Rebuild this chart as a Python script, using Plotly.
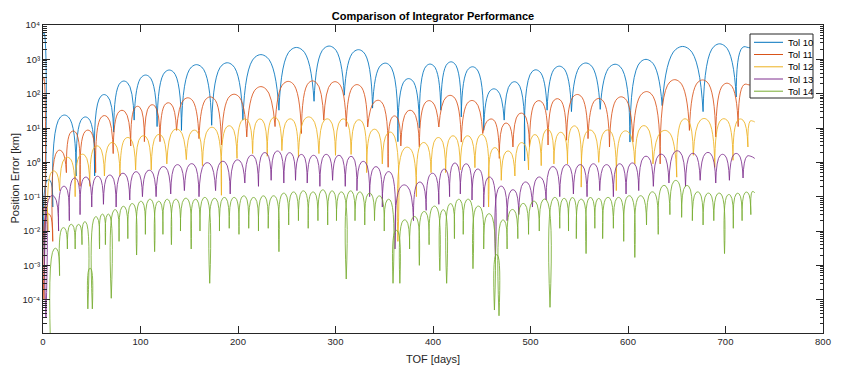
import plotly.graph_objects as go

# ---------------- data ----------------
# each series: days of the cusps (first = start, last = end of data),
# value at each cusp, and the peak value of each arch between two cusps

tol10_cusp_days = [0, 1.5, 10, 34, 53, 72.5, 93.5, 117, 142, 173, 205, 242, 278, 309, 338,
                   364, 386, 408, 429, 452, 473, 494, 517, 542, 571.5, 602, 635, 677, 711, 730]
tol10_cusp_vals = [1e-6, 1e-3, 0.05, 0.4, 0.4, 7.6, 17, 11, 8.5, 12, 17, 33, 60, 90, 38,
                   4, 10, 33, 21, 8.6, 17, 1.1, 33, 30, 35, 3.9, 45, 30, 80, 2000]
tol10_peak_vals = [6000, 0.3, 21, 19, 85, 210, 310, 430, 600, 680, 1150, 1870, 2100, 1660,
                   680, 245, 650, 760, 540, 125, 200, 440, 560, 680, 620, 850, 1950, 2400, 2200]

tol11_cusp_days = [0, 1, 10, 24, 38, 54, 72, 90, 104, 120, 137, 160, 183, 209, 238, 265, 288,
                   311, 333, 354, 367, 386, 406, 429, 451, 468, 482, 499, 518, 537, 559, 581,
                   605, 633, 663, 690, 713, 730]
tol11_cusp_vals = [1e-6, 1e-4, 0.005, 0.5, 0.2, 0.5, 1.8, 3, 4, 4, 8.5, 4.9, 3.2, 5.5, 11,
                   6.9, 17, 11, 10.7, 0.72, 3, 2.8, 10.7, 3.9, 6.9, 1.3, 2.8, 2.8, 3.2, 4.4,
                   4.9, 2.8, 3.9, 0.9, 8.5, 5.5, 11, 170]
tol11_peak_vals = [300, 0.03, 2.1, 7.6, 8, 21, 30, 40, 44, 50, 68, 72, 85, 140, 200, 210, 200,
                   165, 58, 21, 30, 57, 80, 57, 17, 13, 25, 57, 65, 85, 65, 72, 100, 220, 220,
                   180, 180]

tol12_cusp_days = [0, 5, 17, 33, 48, 63, 79, 95, 111, 127, 147, 163.5, 183, 199, 215, 230,
                   245, 262, 283, 300, 316, 332, 348, 364, 383, 398, 413, 428, 443, 457, 470,
                   484, 498, 511, 524, 538, 552, 570, 588, 607, 625.6, 650, 667, 689, 707.7,
                   723, 730]
tol12_cusp_vals = [1e-6, 0.01, 0.15, 0.1, 0.2, 0.4, 0.4, 0.6, 0.6, 0.9, 1.2, 0.8, 0.11, 1.3,
                   1.8, 1.5, 2.2, 1.4, 1.8, 1.6, 1.7, 0.5, 0.9, 0.005, 0.1, 0.5, 0.5, 0.6, 0.7,
                   0.05, 0.3, 0.4, 0.6, 0.8, 0.9, 0.9, 0.19, 1.0, 0.15, 0.9, 0.9, 0.37, 1.6,
                   0.72, 1.15, 2.8, 15]
tol12_peak_vals = [0.05, 0.53, 1.3, 1.6, 2.8, 3.5, 4.9, 5.5, 6, 8.5, 8, 9.5, 10.7, 17, 17, 19,
                   17, 19, 17, 17, 16, 8.5, 7, 2.5, 3.5, 4.9, 5.5, 5.5, 6, 2.5, 2, 3.5, 6, 8.5,
                   7, 10.7, 8, 8, 7.5, 10.7, 7.6, 17, 17, 17, 17, 16]

tol13_cusp_days = [0, 3, 16, 27, 38, 50, 62, 75, 89, 102, 116, 131, 145, 160, 177, 192, 207,
                   221, 234, 247, 259, 271, 284, 297, 310, 322, 335, 348, 361, 380, 393, 406,
                   417, 428, 440, 452, 464, 476, 488, 502, 516, 530, 544, 558, 571, 585, 598,
                   611, 626, 642, 659, 674, 690, 704, 718, 730]
tol13_cusp_vals = [1e-6, 3e-5, 0.01, 0.02, 0.03, 0.05, 0.06, 0.05, 0.08, 0.1, 0.1, 0.12, 0.15,
                   0.1, 0.15, 0.12, 0.25, 0.2, 0.3, 0.25, 0.3, 0.25, 0.2, 0.3, 0.2, 0.15, 0.1,
                   0.05, 0.003, 0.02, 0.04, 0.06, 0.1, 0.12, 0.08, 0.05, 0.0015, 0.02, 0.03,
                   0.05, 0.08, 0.1, 0.12, 0.1, 0.15, 0.1, 0.12, 0.15, 0.2, 0.25, 0.2, 0.3,
                   0.25, 0.3, 0.35, 1.3]
tol13_peak_vals = [0.05, 0.1, 0.19, 0.33, 0.35, 0.37, 0.4, 0.45, 0.5, 0.55, 0.7, 0.8, 0.85,
                   0.9, 1.0, 1.1, 1.5, 1.8, 2.0, 1.8, 1.6, 1.5, 1.6, 1.5, 1.4, 1.0, 0.7, 0.5,
                   0.2, 0.25, 0.45, 0.6, 0.9, 0.85, 0.6, 0.35, 0.19, 0.15, 0.25, 0.35, 0.7,
                   0.8, 0.8, 0.85, 0.8, 0.85, 0.9, 1.4, 1.6, 2.0, 1.7, 1.8, 1.6, 1.7, 1.5]

tol14_cusp_days = [8.5, 17, 25, 33, 40, 46, 50.6, 58, 64, 70, 78, 87, 96, 105, 114.5, 123,
                   131.7, 141, 152, 161, 171, 181, 191, 201, 211, 221, 231, 242, 252, 262,
                   272, 282, 292, 301, 311, 320, 330, 340, 350, 359, 366, 376, 386, 396, 407,
                   414, 422, 431, 441, 452, 463, 467.7, 476, 487, 498, 509, 520, 530, 539,
                   547, 557, 566, 574, 585, 595.6, 607, 619, 631, 643, 655, 666, 677, 688,
                   699, 708, 717, 726, 730]
tol14_cusp_vals = [1e-6, 5e-4, 3e-3, 3e-3, 4e-3, 5.4e-5, 5.4e-5, 3e-3, 4e-3, 1.1e-4, 5e-3,
                   6e-3, 2e-3, 8e-3, 2.5e-3, 8e-3, 4e-3, 0.01, 3e-3, 0.01, 3e-4, 0.01, 0.012,
                   0.008, 0.012, 0.01, 0.012, 2.5e-3, 0.015, 0.02, 0.012, 0.02, 0.015, 0.02,
                   4e-4, 0.02, 0.015, 0.02, 0.01, 3e-4, 3e-4, 3e-3, 1e-3, 4e-3, 7e-4, 3e-4,
                   6e-3, 0.008, 8e-4, 3e-3, 5e-5, 3.4e-5, 3e-3, 0.006, 0.008, 0.01, 6e-5,
                   0.012, 0.01, 6e-3, 2.2e-3, 0.012, 6e-3, 0.012, 5e-3, 1.7e-3, 0.015, 8e-3,
                   0.03, 0.025, 0.02, 0.015, 0.02, 2.2e-3, 0.012, 0.02, 0.03, 0.13]
tol14_peak_vals = [0.003, 0.012, 0.015, 0.015, 0.018, 8e-4, 0.025, 0.03, 0.03, 0.04, 0.05,
                   0.06, 0.07, 0.08, 0.07, 0.08, 0.08, 0.085, 0.08, 0.09, 0.085, 0.09, 0.09,
                   0.1, 0.09, 0.1, 0.1, 0.12, 0.13, 0.14, 0.13, 0.15, 0.14, 0.13, 0.14, 0.13,
                   0.12, 0.1, 0.08, 0.01, 0.02, 0.025, 0.035, 0.05, 0.04, 0.06, 0.08, 0.08,
                   0.05, 0.03, 0.002, 0.02, 0.04, 0.06, 0.07, 0.08, 0.09, 0.085, 0.09, 0.08,
                   0.09, 0.085, 0.09, 0.09, 0.1, 0.1, 0.13, 0.2, 0.28, 0.2, 0.13, 0.12, 0.12,
                   0.11, 0.12, 0.13, 0.14]

series_names = ["Tol 10", "Tol 11", "Tol 12", "Tol 13", "Tol 14"]
series_colors = ["#0072BD", "#D95319", "#EDB120", "#7E2F8E", "#77AC30"]
series_data = [
    (tol10_cusp_days, tol10_cusp_vals, tol10_peak_vals),
    (tol11_cusp_days, tol11_cusp_vals, tol11_peak_vals),
    (tol12_cusp_days, tol12_cusp_vals, tol12_peak_vals),
    (tol13_cusp_days, tol13_cusp_vals, tol13_peak_vals),
    (tol14_cusp_days, tol14_cusp_vals, tol14_peak_vals),
]

x_ticks = [0, 100, 200, 300, 400, 500, 600, 700, 800]
y_tick_vals = [1e-4, 1e-3, 1e-2, 1e-1, 1e0, 1e1, 1e2, 1e3, 1e4]
y_tick_labels = ["10⁻⁴", "10⁻³", "10⁻²", "10⁻¹", "10⁰", "10¹", "10²", "10³", "10⁴"]


def arches(days, vals, peaks):
    """One spline segment per arch: cusp, top (held over the middle third), cusp."""
    xs, ys = [], []
    for i, p in enumerate(peaks):
        a, b = days[i], days[i + 1]
        w = b - a
        xs += [a, a + w / 3, a + 2 * w / 3, b, None]
        ys += [vals[i], p, p, vals[i + 1], None]
    return xs, ys


fig = go.Figure()
for name, color, (d, v, p) in zip(series_names, series_colors, series_data):
    xs, ys = arches(d, v, p)
    fig.add_trace(go.Scatter(x=xs, y=ys, mode="lines", name=name,
                             line=dict(color=color, width=0.85, shape="spline", smoothing=1.3),
                             connectgaps=False, showlegend=False))

axis_col = "#262626"
FONT = "Liberation Sans, Arial, sans-serif"

# the page body adds an 8 px offset, so the figure is 842x368 with margins trimmed by 8 px
W, H = 842, 368
L, R, T, B = 35, 27, 17, 43

fig.update_layout(
    width=W, height=H,
    margin=dict(l=L, r=R, t=T, b=B, autoexpand=False),
    paper_bgcolor="white", plot_bgcolor="white",
    font=dict(family=FONT, color=axis_col, size=9),
    title=dict(text="<b>Comparison of Integrator Performance</b>",
               x=0.5, xref="paper", xanchor="center",
               y=1 - 8 / H, yref="container", yanchor="middle",
               font=dict(size=11, color="black", family=FONT)),
    showlegend=False,
)
fig.update_xaxes(range=[0, 800], tickvals=x_ticks, ticks="inside", ticklen=7,
                 tickcolor=axis_col, showline=True, linecolor=axis_col, linewidth=1,
                 mirror="ticks", showgrid=False, zeroline=False, automargin=False,
                 tickfont=dict(size=9.5, color=axis_col),
                 title=dict(text="TOF [days]", font=dict(size=11, color=axis_col), standoff=8))
fig.update_yaxes(type="log", range=[-4.97, 4], tickvals=y_tick_vals, ticktext=y_tick_labels,
                 ticks="inside", ticklen=7, tickcolor=axis_col,
                 minor=dict(ticks="inside", ticklen=3.5, dtick="D1", tickcolor=axis_col,
                            showgrid=False),
                 showline=True, linecolor=axis_col, linewidth=1, mirror="ticks",
                 showgrid=False, zeroline=False, automargin=False,
                 tickfont=dict(size=9.5, color=axis_col))

PW = W - L - R   # plot width in px
PH = H - T - B   # plot height in px


def px_x(px):
    # px: horizontal pixel position on the page
    return (px - 8 - L) / PW


def px_y(py):
    # py: vertical pixel position on the page
    return (H - B - (py - 8)) / PH


# y-axis title
fig.add_annotation(text="Position Error [km]", xref="paper", yref="paper",
                   x=px_x(14.5), y=0.5, textangle=-90, showarrow=False,
                   xanchor="center", yanchor="middle",
                   font=dict(size=11, color=axis_col, family=FONT))

# legend box in the top-right corner of the axes
fig.add_shape(type="rect", xref="paper", yref="paper",
              x0=px_x(750), x1=px_x(813), y0=px_y(98), y1=px_y(34),
              line=dict(color=axis_col, width=1), fillcolor="white", layer="above")
entry_py = [42.3, 54.5, 66.8, 79, 91.2]
for name, color, py in zip(series_names, series_colors, entry_py):
    fig.add_shape(type="line", xref="paper", yref="paper",
                  x0=px_x(754), x1=px_x(783), y0=px_y(py), y1=px_y(py),
                  line=dict(color=color, width=1), layer="above")
    fig.add_annotation(text=name, xref="paper", yref="paper", x=px_x(785.5), y=px_y(py),
                       xanchor="left", yanchor="middle", showarrow=False,
                       font=dict(size=9.5, color="black", family=FONT))

fig.write_html("out.html")
